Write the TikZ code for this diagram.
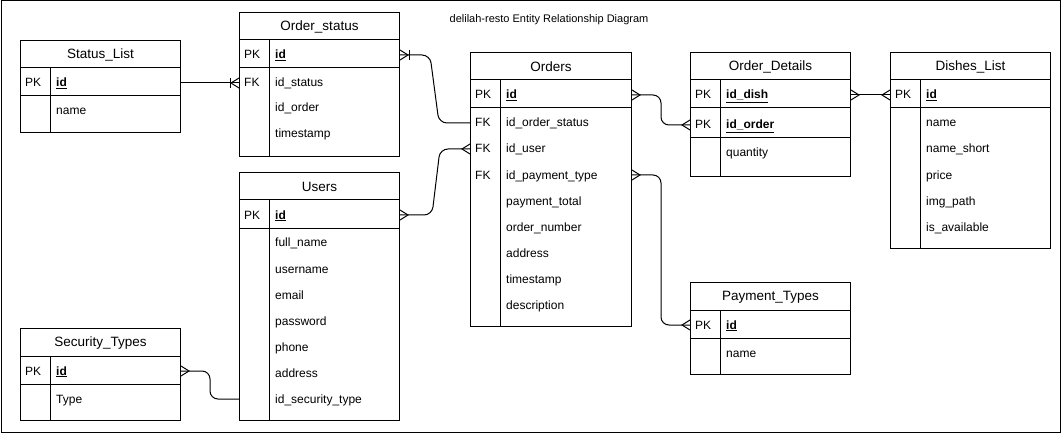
\documentclass[tikz,border=0pt]{standalone}
\usepackage{fontspec}
\setmainfont{Liberation Sans}
\usetikzlibrary{calc}
\tikzset{
  ln/.style={line width=1pt},
  tbl/.style={draw, line width=1pt, inner sep=0pt, anchor=north west},
  ttl/.style={font=\fontsize{13.5}{16}\selectfont, inner sep=0pt},
  fld/.style={font=\fontsize{12}{14}\selectfont, anchor=west, inner sep=0pt, text height=9pt, text depth=3pt},
  conn/.style={line width=1pt, rounded corners=8pt},
}
% crow's foot: #1 point on entity edge, #2 = +1 (line leaves to the right) / -1 (to the left)
\newcommand\crowfoot[2]{\draw[ln] (#1) ++(0,-5) -- ++({#2*8},5) -- ++({-#2*8},5);}
\newcommand\onebar[2]{\draw[ln] (#1) ++({#2*9},-5) -- ++(0,10);}
% table: name, x, y, w, h, title
\newcommand\ertable[6]{%
  \node[tbl, minimum width=#4pt, minimum height=#5pt] (#1) at (#2,#3) {};
  \node[ttl] (#1-t) at ($(#1.north)+(0,15)$) {#6};
  \draw[ln] ($(#1.north west)+(0,28)$) -- ($(#1.north east)+(0,28)$);
  \draw[ln] ($(#1.north west)+(0,56)$) -- ($(#1.north east)+(0,56)$);
  \draw[ln] ($(#1.north west)+(30,28)$) -- ($(#1.south west)+(30,0)$);
}
% row: table, row name, y offset, key, field
\newcommand\errow[5]{%
  \node[fld] (#2-k) at ($(#1.north west)+(5,#3+2)$) {#4};
  \node[fld] (#2) at ($(#1.north west)+(36,#3+2)$) {#5};
}
\newcommand\pk[1]{\underline{\textbf{#1}}}
\begin{document}
\begin{tikzpicture}[x=1pt,y=-1pt]
\useasboundingbox (0,0) rectangle (1061,433);
\draw[ln] (1,1) rectangle (1060,432);
\node[font=\fontsize{11}{13}\selectfont, inner sep=0pt] (title) at (549,20) {delilah-resto Entity Relationship Diagram};

% Status_List
\ertable{sl}{20}{40}{160}{92}{Status\_List}
\errow{sl}{sl-id}{42}{PK}{\pk{id}}
\errow{sl}{sl-name}{70}{}{name}

% Order_status
\ertable{os}{239}{12}{160}{144}{Order\_status}
\errow{os}{os-id}{42}{PK}{\pk{id}}
\errow{os}{os-status}{70}{FK}{id\_status}
\errow{os}{os-order}{95}{}{id\_order}
\errow{os}{os-ts}{121}{}{timestamp}

% Users
\ertable{us}{239}{172}{160}{248}{Users}
\errow{us}{us-id}{42}{PK}{\pk{id}}
\errow{us}{us-fn}{70}{}{full\_name}
\errow{us}{us-un}{96}{}{username}
\errow{us}{us-em}{122}{}{email}
\errow{us}{us-pw}{148}{}{password}
\errow{us}{us-ph}{174}{}{phone}
\errow{us}{us-ad}{200}{}{address}
\errow{us}{us-st}{226}{}{id\_security\_type}

% Security_Types
\ertable{st}{20}{328}{160}{92}{Security\_Types}
\errow{st}{st-id}{42}{PK}{\pk{id}}
\errow{st}{st-type}{70}{}{Type}

% Orders
\ertable{ord}{470}{52}{161}{274}{Orders}
\errow{ord}{ord-id}{42}{PK}{\pk{id}}
\errow{ord}{ord-status}{70}{FK}{id\_order\_status}
\errow{ord}{ord-user}{96}{FK}{id\_user}
\errow{ord}{ord-pay}{122}{FK}{id\_payment\_type}
\errow{ord}{ord-tot}{148}{}{payment\_total}
\errow{ord}{ord-num}{174}{}{order\_number}
\errow{ord}{ord-ad}{200}{}{address}
\errow{ord}{ord-ts}{226}{}{timestamp}
\errow{ord}{ord-desc}{252}{}{description}

% Order_Details
\ertable{od}{690}{52}{160}{124}{Order\_Details}
\draw[ln] ($(od.north west)+(0,86)$) -- ($(od.north east)+(0,86)$);
\errow{od}{od-dish}{42}{PK}{\pk{id\_dish}}
\errow{od}{od-order}{72}{PK}{\pk{id\_order}}
\errow{od}{od-qty}{100}{}{quantity}

% Dishes_List
\ertable{dl}{890}{52}{160}{196}{Dishes\_List}
\errow{dl}{dl-id}{42}{PK}{\pk{id}}
\errow{dl}{dl-name}{70}{}{name}
\errow{dl}{dl-short}{96}{}{name\_short}
\errow{dl}{dl-price}{122}{}{price}
\errow{dl}{dl-img}{148}{}{img\_path}
\errow{dl}{dl-av}{174}{}{is\_available}

% Payment_Types
\ertable{pt}{690}{282}{160}{92}{Payment\_Types}
\errow{pt}{pt-id}{42}{PK}{\pk{id}}
\errow{pt}{pt-name}{70}{}{name}

% connectors
\coordinate (c1a) at ($(sl.east |- sl-id)+(0,-1)$);
\coordinate (c1b) at (os.west |- c1a);
\draw[conn] (c1a) -- (c1b);
\crowfoot{c1b}{-1}\onebar{c1b}{-1}

\coordinate (c2a) at ($(os.east |- os-id)+(0,-1)$);
\coordinate (c2b) at ($(ord.west |- ord-status)+(0,-1)$);
\draw[conn] (c2a) -- ++(30,0) -- ($(c2b)+(-31,0)$) -- (c2b);
\crowfoot{c2a}{1}\onebar{c2a}{1}

\coordinate (c3a) at ($(ord.west |- ord-user)+(0,-1)$);
\coordinate (c3b) at ($(us.east |- us-id)+(0,-1)$);
\draw[conn] (c3a) -- ++(-30,0) -- ($(c3b)+(32,0)$) -- (c3b);
\crowfoot{c3a}{-1}\crowfoot{c3b}{1}

\coordinate (c4a) at ($(ord.east |- ord-id)+(0,-1)$);
\coordinate (c4b) at ($(od.west |- od-order)+(0,-1)$);
\draw[conn] (c4a) -- ++(29,0) |- (c4b);
\crowfoot{c4a}{1}\crowfoot{c4b}{-1}

\coordinate (c5a) at ($(od.east |- od-dish)+(0,-1)$);
\coordinate (c5b) at (dl.west |- c5a);
\draw[conn] (c5a) -- (c5b);
\crowfoot{c5a}{1}\crowfoot{c5b}{-1}

\coordinate (c6a) at ($(ord.east |- ord-pay)+(0,-1)$);
\coordinate (c6b) at ($(pt.west |- pt-id)+(0,-1)$);
\draw[conn] (c6a) -- ++(29,0) |- (c6b);
\crowfoot{c6a}{1}\crowfoot{c6b}{-1}

\coordinate (c7a) at ($(st.east |- st-id)+(0,-1)$);
\coordinate (c7b) at ($(us.west |- us-st)+(0,-1)$);
\draw[conn] (c7a) -- ++(29,0) |- (c7b);
\crowfoot{c7a}{1}
\end{tikzpicture}
\end{document}
